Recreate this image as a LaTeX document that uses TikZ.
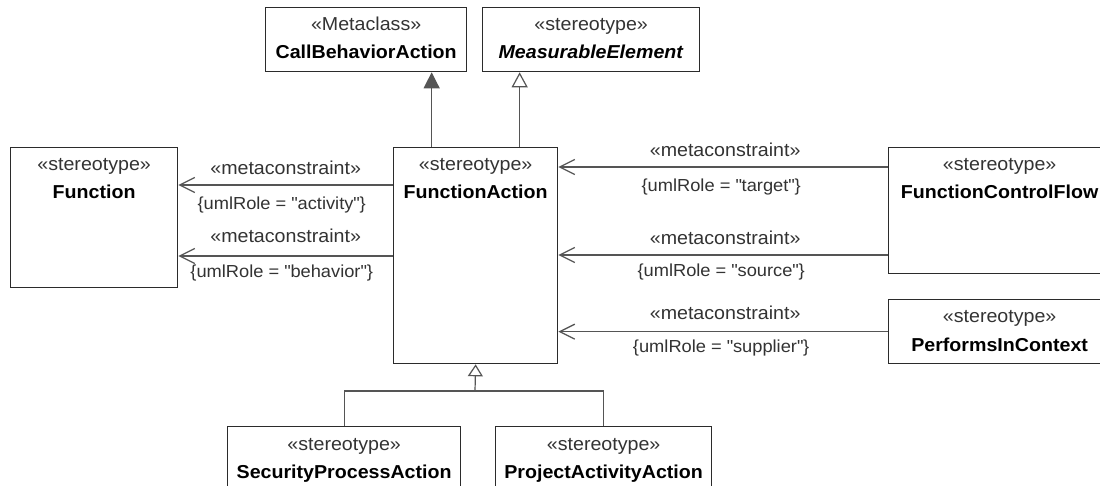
\documentclass[tikz,border=0pt]{standalone}
\usepackage{fontspec}
\setmainfont{Liberation Sans}[FakeStretch=1.05]
\usetikzlibrary{arrows.meta}
\definecolor{linec}{HTML}{555555}
\definecolor{boxc}{HTML}{2B2B2B}
\definecolor{txtc}{HTML}{333333}
\newcommand\umlboxtext[3]{\path (#1.north) ++(0,24) node[ster]{#2} ++(0,28) node[nm]{#3};}
\newcommand\qd{\textquotedbl}
\begin{document}
\begin{tikzpicture}[x=1pt,y=-1pt,
  every node/.style={font=\fontsize{18.7}{22}\selectfont},
  box/.style={draw=boxc,line width=1.3pt,anchor=north west,inner sep=0pt,fill=white},
  ster/.style={anchor=base,text=txtc,inner sep=0pt},
  nm/.style={anchor=base,text=black,font=\fontsize{18.7}{22}\selectfont\bfseries,inner sep=0pt},
  conn/.style={draw=linec,line width=1.2pt},
  mc/.style={conn,-{Straight Barb[length=15pt,width=15pt,line width=1.3pt]}},
  genf/.style={conn,-{Triangle[length=16pt,width=16pt,fill=linec]}},
  geno/.style={conn,-{Triangle[open,length=15pt,width=16pt,fill=white]}},
  genb/.style={conn,-{Triangle[open,length=12pt,width=15pt,fill=white]}},
  lab/.style={anchor=base,text=txtc,inner sep=0pt},
  role/.style={lab,font=\fontsize{17.4}{20}\selectfont}
]
\useasboundingbox (0,0) rectangle (1100,486);
\clip (0,0) rectangle (1100,486);
\fill[white] (0,0) rectangle (1100,486);

% boxes
\node[box,minimum width=201pt,minimum height=64pt] (cba) at (265,7) {};
\node[box,minimum width=217pt,minimum height=64pt] (me) at (482,7) {};
\node[box,minimum width=167pt,minimum height=140pt] (fn) at (10,147) {};
\node[box,minimum width=164pt,minimum height=216pt] (fa) at (393,147) {};
\node[box,minimum width=222pt,minimum height=126pt] (fcf) at (888,147) {};
\node[box,minimum width=222pt,minimum height=64pt] (pic) at (888,299) {};
\node[box,minimum width=233pt,minimum height=80pt] (spa) at (227,426) {};
\node[box,minimum width=216pt,minimum height=80pt] (paa) at (495,426) {};

\umlboxtext{cba}{«Metaclass»}{CallBehaviorAction}
\umlboxtext{me}{«stereotype»}{\textit{MeasurableElement}}
\umlboxtext{fn}{«stereotype»}{Function}
\umlboxtext{fa}{«stereotype»}{FunctionAction}
\umlboxtext{fcf}{«stereotype»}{FunctionControlFlow}
\umlboxtext{pic}{«stereotype»}{PerformsInContext}
\umlboxtext{spa}{«stereotype»}{SecurityProcessAction}
\umlboxtext{paa}{«stereotype»}{ProjectActivityAction}

% generalizations to top
\draw[genf] ([xshift=-44pt]fa.north) -- ([xshift=-44pt]fa.north |- cba.south);
\draw[geno] ([xshift=44pt]fa.north) -- ([xshift=44pt]fa.north |- me.south);

% left metaconstraints
\coordinate (l1) at ([yshift=-38pt]fa.north west);
\coordinate (l2) at ([yshift=-109pt]fa.north west);
\draw[mc] (l1) -- (l1 -| fn.east)
  node[midway,lab,yshift=10pt]{«metaconstraint»}
  node[midway,role,yshift=-25pt,xshift=-4pt]{\{umlRole = \qd activity\qd\}};
\draw[mc] (l2) -- (l2 -| fn.east)
  node[midway,lab,yshift=13pt]{«metaconstraint»}
  node[midway,role,yshift=-22pt,xshift=-4pt]{\{umlRole = \qd behavior\qd\}};

% right metaconstraints
\coordinate (r1) at ([yshift=-20pt]fcf.north west);
\coordinate (r2) at ([yshift=-108pt]fcf.north west);
\draw[mc] (r1) -- (r1 -| fa.east)
  node[midway,lab,yshift=10pt,xshift=2pt]{«metaconstraint»}
  node[midway,role,yshift=-25pt,xshift=-2pt]{\{umlRole = \qd target\qd\}};
\draw[mc] (r2) -- (r2 -| fa.east)
  node[midway,lab,yshift=10pt,xshift=2pt]{«metaconstraint»}
  node[midway,role,yshift=-22pt,xshift=-2pt]{\{umlRole = \qd source\qd\}};
\draw[mc] (pic.west) -- (pic.west -| fa.east)
  node[midway,lab,yshift=12pt,xshift=2pt]{«metaconstraint»}
  node[midway,role,yshift=-21pt,xshift=-2pt]{\{umlRole = \qd supplier\qd\}};

% generalization from bottom
\coordinate (gj) at (475,391);
\draw[conn] (spa.north) |- (gj) -| (paa.north);
\draw[genb] (gj) -- (fa.south);
\end{tikzpicture}
\end{document}
